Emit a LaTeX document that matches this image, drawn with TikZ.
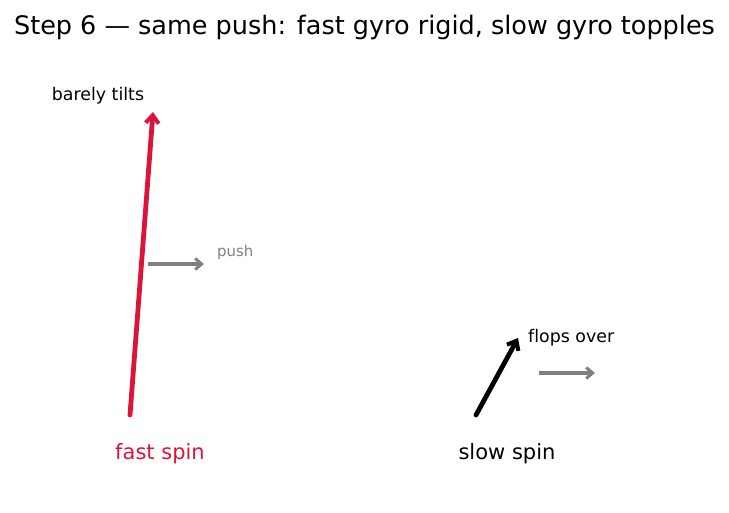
\documentclass[tikz,border=0pt]{standalone}
\usepackage{fontspec}
\setmainfont[Ligatures=NoCommon]{DejaVu Sans}
\usepackage{tikz}
\usetikzlibrary{
    positioning,                      % relative placement
    arrows.meta                       % arrow tips
}
\definecolor{crimson}{RGB}{220,20,60}
\definecolor{pushgray}{RGB}{128,128,128}
\tikzset{
    axis/.style={
        -{Straight Barb[length=8pt,width=13pt,line width=4pt]},
        line width=4.8pt, line cap=round
    },
    pusharrow/.style={
        -{Straight Barb[length=6.5pt,width=11pt,line width=3pt]},
        line width=3.2pt, draw=pushgray
    },
    caption/.style={
        font=\fontsize{21}{25}\selectfont, inner sep=0pt
    },
    note/.style={
        font=\fontsize{17.4}{21}\selectfont, inner sep=0pt
    },
    small note/.style={
        font=\fontsize{14.9}{18}\selectfont, inner sep=0pt, text=pushgray
    }
}

\begin{document}
\begin{tikzpicture}[x=1pt, y=-1pt]
        \useasboundingbox (0,0) rectangle (729,512);

        \node[font=\fontsize{25.5}{30}\selectfont, inner sep=0pt] (title) at (364.5,27)
            {Step 6 — same push: fast gyro rigid, slow gyro topples};

        % --- Giroscopio rapido ---
        \coordinate (fast_base) at (130,415);
        \coordinate (fast_tip) at (153,112);
        \draw[axis, draw=crimson] (fast_base) -- (fast_tip);
        \node[note] (fast_note) at (98,96) {barely tilts};

        \coordinate (fast_push_a) at (148,264);
        \coordinate (fast_push_b) at (204,264);
        \draw[pusharrow] (fast_push_a) -- (fast_push_b);
        \node[small note, anchor=west] (fast_push) at (217,252) {push};

        \node[caption, text=crimson] (fast_cap) at (160,454) {fast spin};

        % --- Giroscopio lento ---
        \coordinate (slow_base) at (476,415);
        \coordinate (slow_tip) at (518,338);
        \draw[axis, draw=black] (slow_base) -- (slow_tip);
        \node[note, anchor=west] (slow_note) at (528,338) {flops over};

        \coordinate (slow_push_a) at (539,373);
        \coordinate (slow_push_b) at (595,373);
        \draw[pusharrow] (slow_push_a) -- (slow_push_b);

        \node[caption] (slow_cap) at (507,454) {slow spin};

    \end{tikzpicture}
\end{document}
